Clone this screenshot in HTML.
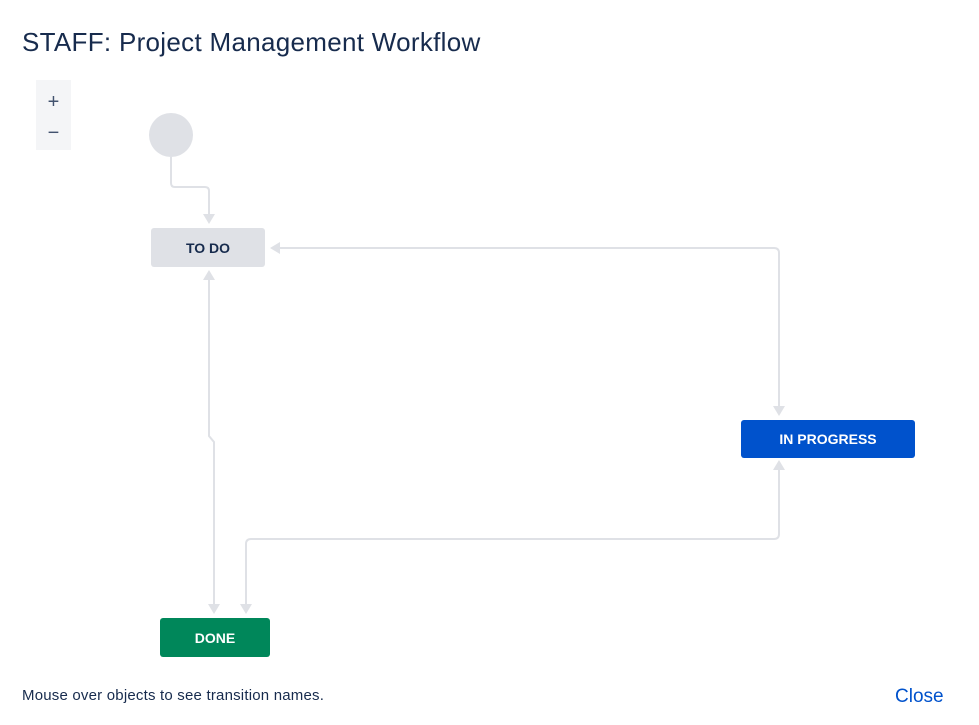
<!DOCTYPE html>
<html><head><meta charset="utf-8"><style>
body{margin:0;width:979px;height:725px;background:#fff;font-family:"Liberation Sans",sans-serif;position:relative;overflow:hidden}
.t{position:absolute;left:22px;top:27px;font-size:26px;letter-spacing:0.3px;color:#172b4d;white-space:nowrap}
.zoom{position:absolute;left:36px;top:80px;width:35px;height:70px;background:#f4f5f7;color:#42526e;font-size:20px;text-align:center}
.n{position:absolute;display:flex;align-items:center;justify-content:center;font-weight:bold;font-size:14px;border-radius:3px}
.foot{position:absolute;left:22px;top:687px;font-size:15px;letter-spacing:0.2px;color:#172b4d;white-space:nowrap}
.close{position:absolute;left:895px;top:686px;font-size:19px;color:#0052cc}
</style></head><body>
<div class="t">STAFF: Project Management Workflow</div>
<div class="zoom"><div style="position:absolute;top:11px;width:100%">+</div><div style="position:absolute;top:42px;width:100%">−</div></div>
<svg width="979" height="725" style="position:absolute;left:0;top:0">
<g fill="none" stroke="#dfe1e6" stroke-width="2">
<path d="M171 157 V183 Q171 187 175 187 H205 Q209 187 209 191 V216"/>
<path d="M209 276 V436 L214 442 V606"/>
<path d="M246 606 V544 Q246 539 251 539 H774 Q779 539 779 534 V470"/>
<path d="M278 248 H774 Q779 248 779 253 V408"/>
</g>
<g fill="#dfe1e6">
<path d="M203 214 L215 214 L209 224Z"/>
<path d="M203 280 L215 280 L209 270Z"/>
<path d="M208 604 L220 604 L214 614Z"/>
<path d="M240 604 L252 604 L246 614Z"/>
<path d="M773 470 L785 470 L779 460Z"/>
<path d="M773 406 L785 406 L779 416Z"/>
<path d="M280 242 L280 254 L270 248Z"/>
</g>
<circle cx="171" cy="135" r="22" fill="#dfe1e6"/>
</svg>
<div class="n" style="left:151px;top:228px;width:114px;height:39px;background:#dfe1e6;color:#172b4d">TO DO</div>
<div class="n" style="left:741px;top:420px;width:174px;height:38px;background:#0052cc;color:#fff">IN PROGRESS</div>
<div class="n" style="left:160px;top:618px;width:110px;height:39px;background:#00875a;color:#fff">DONE</div>
<div class="foot">Mouse over objects to see transition names.</div>
<div class="close">Close</div>
</body></html>
